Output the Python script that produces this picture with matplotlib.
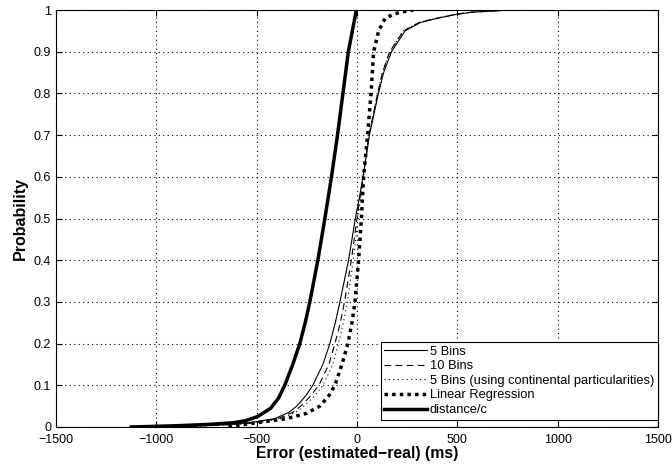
import matplotlib
matplotlib.use("Agg")
import matplotlib.pyplot as plt

plt.rcParams['font.family'] = ['Liberation Sans', 'DejaVu Sans']
plt.rcParams['axes.unicode_minus'] = True

# Probability levels and error values (ms)
p_dist = [0, 0.003, 0.006, 0.01, 0.015, 0.025, 0.045, 0.07, 0.1, 0.15, 0.2, 0.25,
          0.3, 0.35, 0.4, 0.5, 0.6, 0.7, 0.8, 0.9, 1.0]
x_dist = [-1125, -900, -750, -620, -555, -495, -430, -390, -360, -320, -285, -258,
          -235, -215, -195, -160, -127, -97, -70, -43, -3]

p_bins = [0, 0.003, 0.006, 0.01, 0.02, 0.035, 0.05, 0.075, 0.1, 0.15, 0.2, 0.25, 0.3,
          0.4, 0.5, 0.55, 0.6, 0.7, 0.8, 0.85, 0.9, 0.95, 0.97, 0.98, 0.99, 0.995, 1.0]
x_5bins = [-1050, -800, -650, -540, -410, -340, -300, -255, -220, -170, -135, -108, -85,
           -42, -8, 12, 30, 62, 107, 133, 172, 240, 316, 400, 500, 580, 765]
x_10bins = [-1000, -760, -620, -520, -395, -320, -280, -230, -190, -140, -110, -83, -62,
            -28, 0, 15, 31, 60, 103, 127, 163, 232, 310, 395, 495, 575, 760]
x_cont = [-980, -740, -600, -500, -380, -305, -265, -210, -170, -120, -92, -68, -48,
          -18, 5, 18, 32, 60, 103, 127, 163, 230, 308, 392, 492, 572, 755]

p_lr = [0, 0.003, 0.01, 0.02, 0.033, 0.05, 0.075, 0.1, 0.15, 0.2, 0.25, 0.3, 0.4, 0.5,
        0.6, 0.7, 0.8, 0.9, 0.95, 0.98, 0.99, 0.995, 1.0]
x_lr = [-640, -610, -500, -350, -250, -185, -140, -110, -75, -45, -25, -10, 8, 22,
        33, 53, 70, 83, 108, 140, 183, 220, 280]

labels = ['5 Bins', '10 Bins', '5 Bins (using continental particularities)',
          'Linear Regression', 'distance/c']

fig = plt.figure(figsize=(6.72, 4.66), dpi=100)
ax = fig.add_axes([0.0833, 0.0837, 0.8958, 0.8948])

ax.plot(x_5bins, p_bins, color='black', lw=0.8, ls='-', label=labels[0])
ax.plot(x_10bins, p_bins, color='black', lw=0.8, ls=(0, (6, 4)), label=labels[1])
ax.plot(x_cont, p_bins, color='black', lw=0.8, ls=(0, (1, 3)), label=labels[2])
ax.plot(x_lr, p_lr, color='black', lw=2.5, ls=(0, (1, 1.2)), label=labels[3])
ax.plot(x_dist, p_dist, color='black', lw=2.5, ls='-', label=labels[4])

ax.set_xlim(-1500, 1500)
ax.set_ylim(0, 1)
ax.set_xticks([-1500, -1000, -500, 0, 500, 1000, 1500])
ax.set_yticks([0, 0.1, 0.2, 0.3, 0.4, 0.5, 0.6, 0.7, 0.8, 0.9, 1])
ax.set_yticklabels(['0', '0.1', '0.2', '0.3', '0.4', '0.5', '0.6', '0.7', '0.8', '0.9', '1'])
ax.grid(True, color='black', ls=(0, (1, 3)), lw=0.8)
ax.tick_params(direction='in', top=True, right=True, labelsize=9, length=4)
ax.tick_params(axis='x', pad=5)
for s in ax.spines.values():
    s.set_linewidth(0.8)

ax.set_xlabel('Error (estimated\u2212real) (ms)', fontsize=11.3, fontweight='bold', labelpad=0)
ax.set_ylabel('Probability', fontsize=11.5, fontweight='bold', labelpad=4)

leg = ax.legend(loc='lower right', bbox_to_anchor=(1.0, 0.017), fontsize=9.3,
                fancybox=False, framealpha=1, edgecolor='black', handlelength=3.3,
                handletextpad=0.2, borderaxespad=0.0, labelspacing=0.2, borderpad=0.3)
leg.get_frame().set_linewidth(0.8)

fig.savefig('out.png', dpi=100)
